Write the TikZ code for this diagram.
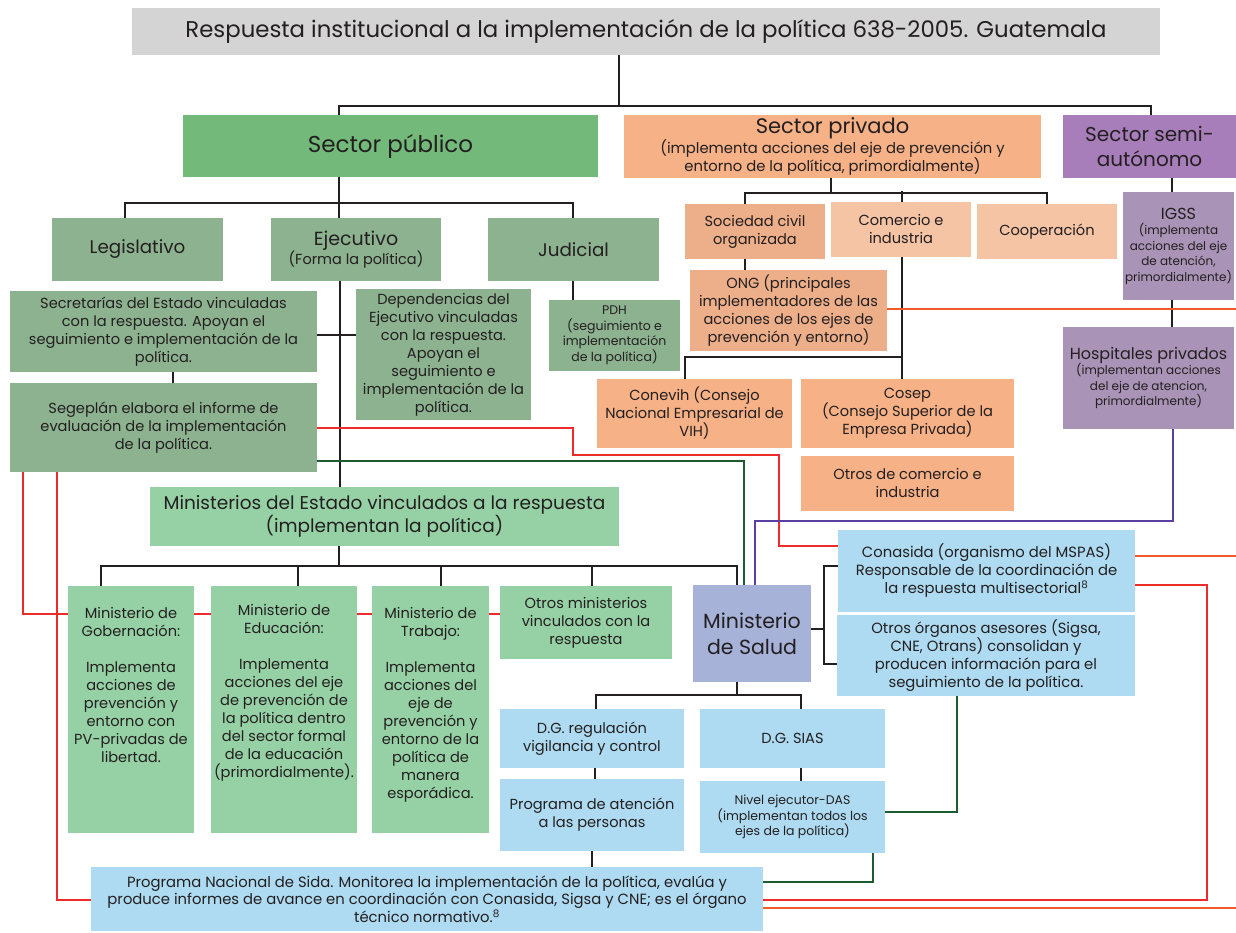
\documentclass[tikz,border=0pt]{standalone}
\usepackage{fontspec}
\setmainfont{Poppins}
\newcommand\fsz[2]{\fontsize{#1}{#2}\selectfont}
\definecolor{ink}{HTML}{231F20}
\definecolor{cTitle}{HTML}{D3D4D3}
\definecolor{cPub}{HTML}{73B97A}
\definecolor{cGov}{HTML}{8DB290}
\definecolor{cMin}{HTML}{96D1A5}
\definecolor{cPriv}{HTML}{F6B186}
\definecolor{cCiv}{HTML}{EDAF89}
\definecolor{cCom}{HTML}{F5C4A5}
\definecolor{cSemi}{HTML}{A77DBA}
\definecolor{cIgss}{HTML}{A993B6}
\definecolor{cSalud}{HTML}{A7B2D9}
\definecolor{cBlue}{HTML}{AEDBF1}
\definecolor{lRed}{HTML}{EE2B2B}
\definecolor{lOrg}{HTML}{F15A29}
\definecolor{lGrn}{HTML}{1E5B30}
\definecolor{lPur}{HTML}{5C3FA3}
\tikzset{
  wh/.style 2 args={minimum width=#1pt, minimum height=#2pt},
  blklink/.style={draw=ink, line width=2pt},
  redlink/.style={draw=lRed, line width=2pt},
  orglink/.style={draw=lOrg, line width=2pt},
  grnlink/.style={draw=lGrn, line width=2pt},
  purlink/.style={draw=lPur, line width=2pt},
}
\begin{document}
\begin{tikzpicture}[x=1pt, y=-1pt]
  \useasboundingbox (0,0) rectangle (1236,932);

  \begin{scope}[every node/.style={rectangle, inner sep=0pt, align=center, text=ink, font=\fsz{14.6}{18}}]
    \node[wh={1028}{47}, fill=cTitle, font=\fsz{22.8}{26}] (title) at (646,31.5) {Respuesta institucional a la implementación de la política 638-2005. Guatemala};

    \node[wh={415}{62}, fill=cPub, font=\fsz{23}{26}] (pub) at (390.5,146) {Sector público};
    \node[wh={417}{63}, fill=cPriv, font=\fsz{14.8}{18}] (priv) at (832.5,146.5) {{\fsz{21}{22}Sector privado}\\(implementa acciones del eje de prevención y\\entorno de la política, primordialmente)};
    \node[wh={173}{63}, fill=cSemi, font=\fsz{20}{25}] (semi) at (1149.5,146.5) {Sector semi-\\autónomo};

    \node[wh={171}{63}, fill=cGov, font=\fsz{18.3}{22}] (leg) at (137.5,249.5) {Legislativo};
    \node[wh={170}{63}, fill=cGov, font=\fsz{14.5}{18}] (eje) at (356,249.5) {{\fsz{19}{22}Ejecutivo}\\(Forma la política)};
    \node[wh={171}{63}, fill=cGov, font=\fsz{18.3}{22}] (jud) at (573.5,249.5) {Judicial};

    \node[wh={307}{81}, fill=cGov] (sec) at (163.5,331.5) {Secretarías del Estado vinculadas\\con la respuesta. Apoyan el\\seguimiento e implementación de la\\política.};
    \node[wh={307}{89}, fill=cGov] (seg) at (163.5,427.5) {Segeplán elabora el informe de\\evaluación de la implementación\\de la política.};
    \node[wh={175}{131}, fill=cGov] (dep) at (443.5,354.5) {Dependencias del\\Ejecutivo vinculadas\\con la respuesta.\\Apoyan el\\seguimiento e\\implementación de la\\política.};
    \node[wh={131}{71}, fill=cGov, font=\fsz{12.5}{15.5}] (pdh) at (614.5,335.5) {PDH\\(seguimiento e\\implementación\\de la política)};

    \node[wh={140}{55}, fill=cCiv] (soc) at (755,231.5) {Sociedad civil\\organizada};
    \node[wh={140}{55}, fill=cCom] (com) at (901,229.5) {Comercio e\\industria};
    \node[wh={140}{55}, fill=cCom] (coop) at (1047,231.5) {Cooperación};
    \node[wh={111}{108}, fill=cIgss, font=\fsz{12}{15.5}] (igss) at (1178.5,246) {{\fsz{16}{19}IGSS}\\(implementa\\acciones del eje\\de atención,\\primordialmente)};
    \node[wh={197}{81}, fill=cCiv] (ong) at (788.5,310.5) {ONG (principales\\implementadores de las\\acciones de los ejes de\\prevención y entorno)};
    \node[wh={195}{69}, fill=cPriv] (conevih) at (694.5,413.5) {Conevih (Consejo\\Nacional Empresarial de\\VIH)};
    \node[wh={213}{69}, fill=cPriv] (cosep) at (907.5,413.5) {Cosep\\(Consejo Superior de la\\Empresa Privada)};
    \node[wh={213}{55}, fill=cPriv] (otroscom) at (907.5,483.5) {Otros de comercio e\\industria};
    \node[wh={171}{102}, fill=cIgss, font=\fsz{12}{15.5}] (hosp) at (1148.5,378) {{\fsz{16}{19}Hospitales privados}\\(implementan acciones\\del eje de atencion,\\primordialmente)};

    \node[wh={469}{59}, fill=cMin, font=\fsz{18.5}{22}] (minest) at (384.5,516.5) {Ministerios del Estado vinculados a la respuesta\\(implementan la política)};
    \node[wh={126}{247}, fill=cMin] (gob) at (131,709.5) {};
    \node[wh={146}{247}, fill=cMin] (edu) at (284,709.5) {};
    \node[wh={117}{247}, fill=cMin] (trab) at (430.5,709.5) {};
    \node[anchor=north] (gobtxt) at ([yshift=-21pt]gob.north) {Ministerio de\\Gobernación:\\[18pt]Implementa\\acciones de\\prevención y\\entorno con\\PV-privadas de\\libertad.};
    \node[anchor=north] (edutxt) at ([yshift=-18pt]edu.north) {Ministerio de\\Educación:\\[18pt]Implementa\\acciones del eje\\de prevención de\\la política dentro\\del sector formal\\de la educación\\(primordialmente).};
    \node[anchor=north] (trabtxt) at ([yshift=-21pt]trab.north) {Ministerio de\\Trabajo:\\[18pt]Implementa\\acciones del\\eje de\\prevención y\\entorno de la\\política de\\manera\\esporádica.};
    \node[wh={172}{73}, fill=cMin] (otrosmin) at (586,622.5) {Otros ministerios\\vinculados con la\\respuesta};

    \node[wh={118}{97}, fill=cSalud, font=\fsz{20.5}{26}] (salud) at (752,633.5) {Ministerio\\de Salud};
    \node[wh={297}{82}, fill=cBlue, font=\fsz{14.8}{18}] (conasida) at (986.5,571) {Conasida (organismo del MSPAS)\\Responsable de la coordinación de\\la respuesta multisectorial\textsuperscript{8}};
    \node[wh={298}{81}, fill=cBlue, font=\fsz{14.8}{18}] (otrosorg) at (986,655.5) {Otros órganos asesores (Sigsa,\\CNE, Otrans) consolidan y\\producen información para el\\seguimiento de la política.};
    \node[wh={184}{59}, fill=cBlue] (dgreg) at (592,738.5) {D.G. regulación\\vigilancia y control};
    \node[wh={185}{59}, fill=cBlue] (dgsias) at (792.5,738.5) {D.G. SIAS};
    \node[wh={184}{72}, fill=cBlue] (pratencion) at (592,815) {Programa de atención\\a las personas};
    \node[wh={185}{72}, fill=cBlue, font=\fsz{12.5}{15.5}] (nivel) at (792.5,817) {Nivel ejecutor-DAS\\(implementan todos los\\ejes de la política)};
    \node[wh={672}{64}, fill=cBlue, font=\fsz{14.8}{17.5}] (pns) at (427,899) {Programa Nacional de Sida. Monitorea la implementación de la política, evalúa y\\produce informes de avance en coordinación con Conasida, Sigsa y CNE; es el órgano\\técnico normativo.\textsuperscript{8}};
  \end{scope}

  \coordinate (jtop) at (619,106);
  \coordinate (jcom) at (902,357);
  \coordinate (endong) at (1236,309);
  \coordinate (endcon) at (1236,556);
  \coordinate (endpns) at (1236,908);

  \begin{scope}[blklink]
    \draw (title.south -| jtop) -- (jtop);
    \draw (pub.north -| 339,0) |- (jtop) -| (semi.north -| 1151,0);
    \draw (pub.south -| 339,0) -- (eje.north -| 339,0);
    \draw (leg.north -| 125,0) -- ++(0,-15) -| (jud.north -| 573,0);
    \draw (eje.south -| 340,0) -- (minest.north -| 340,0);
    \draw (sec.east |- 0,335) -- (dep.west |- 0,335);
    \draw (sec.south -| 173,0) -- (seg.north -| 173,0);
    \draw (jud.south -| 573,0) -- (pdh.north -| 573,0);
    \draw (priv.south -| 831,0) -- ++(0,15);
    \draw (soc.north -| 745,0) -- ++(0,-11) -| (coop.north -| 1047,0);
    \draw (com.north -| 902,0) -- ++(0,-11);
    \draw (soc.south -| 745,0) -- (ong.north -| 745,0);
    \draw (com.south -| 902,0) -- (cosep.north -| 902,0);
    \draw (conevih.north -| 685,0) |- (jcom);
    \draw (semi.south -| 1172,0) -- (igss.north -| 1172,0);
    \draw (igss.south -| 1172,0) -- (hosp.north -| 1172,0);
    \draw (minest.south -| 339,0) -- ++(0,20);
    \draw (gob.north -| 101,0) -- ++(0,-20) -| (salud.north -| 737,0);
    \draw (edu.north -| 298,0) -- ++(0,-20);
    \draw (trab.north -| 441,0) -- ++(0,-20);
    \draw (otrosmin.north -| 592,0) -- ++(0,-20);
    \draw (salud.east |- 0,629) -- ++(13,0);
    \draw (conasida.west |- 0,566) -- ++(-14,0) |- (otrosorg.west |- 0,664);
    \draw (salud.south -| 737,0) -- ++(0,13);
    \draw (dgreg.north -| 596,0) -- ++(0,-14) -| (dgsias.north -| 801,0);
    \draw (dgreg.south -| 595,0) -- (pratencion.north -| 595,0);
    \draw (dgsias.south -| 801,0) -- (nivel.north -| 801,0);
    \draw (pratencion.south -| 592,0) -- (pns.north -| 592,0);
  \end{scope}

  \draw[redlink] (seg.east |- 0,428) -| ++(256,27) -| ++(206,91) -- (conasida.west |- 0,546);
  \draw[redlink] (seg.south -| 23,0) |- (gob.west |- 0,614);
  \draw[redlink] (gob.east |- 0,614) -- (edu.west |- 0,614);
  \draw[redlink] (edu.east |- 0,614) -- (trab.west |- 0,614);
  \draw[redlink] (trab.east |- 0,614) -- (otrosmin.west |- 0,614);
  \draw[redlink] (seg.south -| 57,0) |- (pns.west |- 0,900);
  \draw[redlink] (conasida.east |- 0,585) -| (1207,900) -- (pns.east |- 0,900);

  \draw[orglink] (ong.east |- endong) -- (endong);
  \draw[orglink] (conasida.east |- endcon) -- (endcon);
  \draw[orglink] (pns.east |- endpns) -- (endpns);

  \draw[grnlink] (seg.east |- 0,461) -| (salud.north -| 744,0);
  \draw[grnlink] (otrosorg.south -| 957,0) |- (nivel.east |- 0,812);
  \draw[grnlink] (nivel.south -| 873,0) |- (pns.east |- 0,882);

  \draw[purlink] (hosp.south -| 1173,0) -- ++(0,92) -| (salud.north -| 755,0);

\end{tikzpicture}
\end{document}
